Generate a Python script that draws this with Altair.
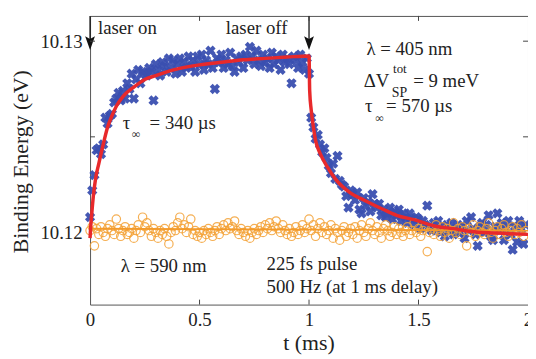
import altair as alt
import pandas as pd

# ---------------- data ----------------
# sample times: every 0.01 ms from 0 to 1.99 ms
T_STEP_MS = 0.01
N_SAMPLES = 200
BASE_EV = 10.12          # offsets below are in units of 0.1 meV above 10.12 eV
UNIT_EV = 1e-4

# lambda = 405 nm data (blue crosses)
blue_dE = [
    8, 22, 30, 43, 44, 41, 46, 60, 57, 61,
    62, 68, 70, 73, 69, 74, 70, 78, 75, 83,
    70, 80, 85, 78, 84, 83, 82, 86, 84, 69,
    88, 85, 82, 89, 87, 84, 91, 86, 90, 83,
    88, 91, 84, 89, 86, 92, 87, 90, 84, 92,
    88, 93, 85, 90, 88, 95, 86, 75, 91, 89,
    93, 86, 90, 88, 94, 87, 84, 91, 89, 92,
    86, 93, 90, 97, 92, 88, 95, 90, 87, 93,
    89, 91, 86, 94, 88, 92, 90, 85, 93, 89,
    91, 88, 78, 92, 90, 86, 93, 89, 85, 91,
    83, 60, 55, 49, 51, 46, 42, 44, 39, 35,
    31, 36, 28, 40, 27, 25, 24, 19, 13, 22,
    20, 17, 21, 12, 10, 18, 14, 16, 11, 20,
    15, 13, 15, 9, 12, 8, 10, 13, 7, 11,
    9, 12, 6, 10, 8, 5, 10, 7, 4, 8,
    7, 2, 6, 4, 14, 3, 1, 5, 2, 6,
    0, 3, -2, 4, 1, 5, -1, 2, 4, 0,
    3, -3, 6, 1, 8, 2, -1, -7, 3, 5,
    0, 4, 9, -2, -4, 3, 10, 1, 5, -4,
    2, 6, -1, -9, 3, -5, 6, 2, -6, 4,
]

# lambda = 590 nm data (orange circles)
orange_dE = [
    1, 3, -7, 2, -1, 3, 0, -2, 2, 4,
    1, -1, 7, 2, -2, 1, 3, -1, 0, 2,
    -3, 1, 4, 0, 8, 3, 5, 1, -2, 2,
    0, -3, 1, -1, 2, -2, -6, 0, 3, 1,
    5, 8, 2, 4, 0, 3, 7, -1, 1, -2,
    0, -3, 1, -1, 2, 0, -2, 1, 3, -1,
    2, 4, 1, 5, 2, 3, 6, 1, -1, 2,
    0, -2, 1, -3, 0, 2, -1, 1, 3, 0,
    4, 2, 5, 1, 3, 6, 2, 0, 4, 1,
    -1, 2, -2, 0, 3, -1, 1, 4, 0, 2,
    7, 1, 4, -2, 2, 5, 0, 3, -1, 1,
    4, -3, 2, 0, -4, 1, 3, -2, 0, 2,
    -1, 3, -3, 1, 4, 0, -2, 2, 5, 1,
    -1, 3, 0, -3, 2, 4, 1, -2, 0, 3,
    -1, 2, 0, -2, 1, 3, -1, 1, 5, 0,
    2, -2, 1, 3, -10, 0, 2, -1, 4, 1,
    -2, 3, 0, 2, -3, 1, 5, 0, 2, -1,
    3, 1, -7, 2, 0, 4, -2, 1, 3, 0,
    -1, 2, 5, 0, -3, 1, 3, -1, 2, 4,
    0, -2, 1, 3, -1, 2, 0, 4, -2, 1,
]

# red fit curve
fit_t = [0, 0.003, 0.008, 0.015, 0.025, 0.04, 0.06, 0.08, 0.1, 0.12, 0.15,
         0.2, 0.25, 0.3, 0.35, 0.4, 0.5, 0.6, 0.7, 0.8, 0.9, 1.0,
         1.003, 1.01, 1.02, 1.03, 1.05, 1.085, 1.12, 1.19, 1.25, 1.34,
         1.4, 1.48, 1.585, 1.66, 1.74, 1.85, 2.0]
fit_E = [10.1197, 10.1203, 10.1210, 10.1219, 10.1228, 10.1236, 10.1246,
         10.1255, 10.1261, 10.1266, 10.1271, 10.1276, 10.1280, 10.1282,
         10.1284, 10.12855, 10.12876, 10.1289, 10.12903, 10.1291, 10.12917,
         10.12923, 10.1274, 10.1264, 10.1255, 10.1248, 10.12415, 10.1234,
         10.1228, 10.12206, 10.1217, 10.1212, 10.1209, 10.12067, 10.12031,
         10.1202, 10.12005, 10.11997, 10.1199]

# orange (flat) fit
ofit_t = [0, 2]
ofit_E = [10.1202, 10.1201]

# axis
x_domain = [0, 2]
y_domain = [10.11623, 10.13132]
x_ticks = [0, 0.5, 1, 1.5, 2]
y_ticks_labeled = [10.12, 10.13]
x_inner_ticks = [0.5, 1, 1.5]
y_inner_ticks = [10.125, 10.13]

# laser on / off arrows
arrow_t = [0, 1]
arrow_top_E = 10.13132
arrow_head_E = 10.12995

# annotations: text, t (left edge), E (vertical centre), font size
ann_text = ["laser on", "laser off", "λ = 405 nm", "ΔV", "tot", "SP", "= 9 meV",
            "τ", "∞", "= 570 µs", "τ", "∞", "= 340 µs", "λ = 590 nm",
            "225 fs pulse", "500 Hz (at 1 ms delay)"]
ann_t = [0.036, 0.620, 1.262, 1.250, 1.384, 1.378, 1.476,
         1.256, 1.302, 1.352, 0.149, 0.190, 0.272, 0.140,
         0.806, 0.806]
ann_E = [10.13067, 10.13067, 10.12959, 10.12794, 10.12855, 10.12730, 10.12794,
         10.12660, 10.12596, 10.12660, 10.12572, 10.12512, 10.12572, 10.11825,
         10.11835, 10.11716]
ann_size = [19, 19, 19, 19, 13, 14, 19,
            19, 12, 19, 19, 12, 19, 19,
            19, 19]

# ---------------- build tables ----------------
t_vals = [round(i * T_STEP_MS, 2) for i in range(N_SAMPLES)]
blue_df = pd.DataFrame({"t": t_vals, "E": [BASE_EV + d * UNIT_EV for d in blue_dE]})
orange_df = pd.DataFrame({"t": t_vals, "E": [BASE_EV + d * UNIT_EV for d in orange_dE]})
fit_df = pd.DataFrame({"t": fit_t, "E": fit_E})
ofit_df = pd.DataFrame({"t": ofit_t, "E": ofit_E})
arrow_df = pd.DataFrame({"t": arrow_t, "E": [arrow_top_E] * 2,
                         "E2": [arrow_head_E] * 2, "Eh": [arrow_head_E] * 2})
ann_df = pd.DataFrame({"text": ann_text, "t": ann_t, "E": ann_E, "size": ann_size})
xt_df = pd.DataFrame({"t": x_inner_ticks})
yt_df = pd.DataFrame({"E": y_inner_ticks})

FONT = "Liberation Serif"
xs = alt.Scale(domain=x_domain, nice=False, zero=False)
ys = alt.Scale(domain=y_domain, nice=False, zero=False)

x_axis = alt.Axis(values=x_ticks, format="~g", ticks=False, domain=False, grid=False,
                  labelFont=FONT, labelFontSize=19, labelColor="#222",
                  labelPadding=6, labelFlush=False, labelOverlap=False, labelBound=False,
                  title="t (ms)", titleFont=FONT, titleFontSize=22,
                  titleFontWeight="normal", titleColor="#222",
                  titleX=221, titleY=38, titleBaseline="middle", titleAlign="center")
y_axis = alt.Axis(values=y_ticks_labeled, format=".2f", ticks=False, domain=False, grid=False,
                  labelFont=FONT, labelFontSize=19, labelColor="#222",
                  labelPadding=8, labelFlush=False, labelOverlap=False,
                  title="Binding Energy (eV)", titleFont=FONT, titleFontSize=22,
                  titleFontWeight="normal", titleColor="#222",
                  titleX=-70, titleY=147, titleAngle=270,
                  titleBaseline="middle", titleAlign="center")


def X(field="t"):
    return alt.X(f"{field}:Q", scale=xs, axis=x_axis)


def Y(field="E"):
    return alt.Y(f"{field}:Q", scale=ys, axis=y_axis)


blue = alt.Chart(blue_df).mark_point(
    shape="cross", angle=45, filled=True, size=110, color="#3a4fb0", opacity=0.95
).encode(x=X(), y=Y())

orange = alt.Chart(orange_df).mark_point(
    shape="circle", filled=False, size=72, color="#f4a236", strokeWidth=1.2, opacity=0.85
).encode(x=X(), y=Y())

ofit = alt.Chart(ofit_df).mark_line(color="#f39a2a", strokeWidth=2).encode(x=X(), y=Y())

fit = alt.Chart(fit_df).mark_line(color="#e8292b", strokeWidth=3.5, interpolate="monotone").encode(
    x=X(), y=Y())

shaft = alt.Chart(arrow_df).mark_rule(color="#111", strokeWidth=1.3).encode(
    x=X(), y=Y(), y2="E2:Q")

head = alt.Chart(arrow_df).mark_point(
    shape="M0,1 L-0.62,-0.75 L0,-0.4 L0.62,-0.75 Z", filled=True, size=256,
    color="#111", opacity=1
).encode(x=X(), y=Y("Eh"))

ann = alt.Chart(ann_df).mark_text(
    font=FONT, align="left", baseline="middle", color="#222"
).encode(x=X(), y=Y(), text="text:N", size=alt.Size("size:Q", scale=None, legend=None))

xt_bottom = alt.Chart(xt_df).mark_rule(color="#444", strokeWidth=1).encode(
    x=X(), y=alt.value(292), y2=alt.value(287))
xt_top = alt.Chart(xt_df).mark_rule(color="#444", strokeWidth=1).encode(
    x=X(), y=alt.value(0), y2=alt.value(5))
yt_left = alt.Chart(yt_df).mark_rule(color="#444", strokeWidth=1).encode(
    y=Y(), x=alt.value(0), x2=alt.value(5))
yt_right = alt.Chart(yt_df).mark_rule(color="#444", strokeWidth=1).encode(
    y=Y(), x=alt.value(443), x2=alt.value(438))

chart = alt.layer(
    blue, orange, ofit, fit, shaft, head, ann, xt_bottom, xt_top, yt_left, yt_right
).properties(
    width=443, height=292,
    autosize=alt.AutoSizeParams(type="none"),
    padding={"left": 83, "top": 6, "right": 0, "bottom": 52},
    background="white",
).configure_view(stroke="#555", strokeWidth=1)

chart.save("out.html", embed_options={"renderer": "svg", "actions": False})
